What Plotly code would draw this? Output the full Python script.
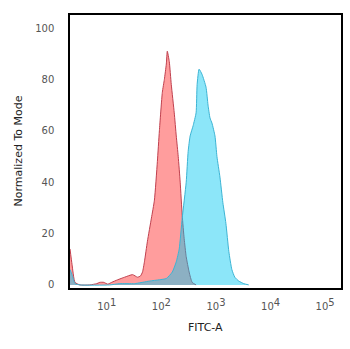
import numpy as np
import plotly.graph_objects as go

# log10(FITC-A) positions and normalized-to-mode values
iso_log = [0.327, 0.364, 0.418, 0.509, 0.69, 0.818, 0.873, 0.945, 1.018, 1.09, 1.2, 1.327,
           1.473, 1.564, 1.618, 1.655, 1.69, 1.745, 1.818, 1.873, 1.927, 1.964, 2.018, 2.055,
           2.091, 2.109, 2.145, 2.182, 2.236, 2.273, 2.309, 2.345, 2.382, 2.418, 2.455, 2.509,
           2.564, 2.636]
iso_val = [14, 8, 1, 0, 0, 0.5, 1, 1, 0.3, 1, 2, 3,
           4, 3, 3.5, 5, 9, 17, 26, 33, 48, 60, 75, 80,
           86, 91, 87, 78, 67, 58, 50, 40, 27, 18, 11, 5,
           1, 0]

ab_log = [0.327, 0.364, 0.418, 0.509, 1.055, 1.236, 1.51, 1.782, 1.964, 2.091, 2.2, 2.273,
          2.327, 2.382, 2.455, 2.491, 2.527, 2.582, 2.636, 2.655, 2.691, 2.745, 2.818, 2.855,
          2.891, 2.927, 2.982, 3.018, 3.073, 3.127, 3.182, 3.236, 3.291, 3.345, 3.418, 3.509,
          3.6]
ab_val = [6, 4, 0.5, 0, 0, 0.5, 0.5, 1.5, 2, 2.5, 5, 9,
          14, 26, 40, 52, 58, 62, 67, 78, 84, 82, 77, 70,
          65, 63, 58, 50, 42, 32, 24, 13, 6, 3, 1.5, 0.5,
          0]

x_tickvals = [10, 100, 1000, 10000, 100000]
x_exponents = ["1", "2", "3", "4", "5"]
y_tickvals = [0, 20, 40, 60, 80, 100]

x_ticktext = ["10<sup><span style='font-size:10px'>%s</span></sup>" % e for e in x_exponents]

fig = go.Figure()
fig.add_trace(go.Scatter(
    x=10 ** np.array(iso_log), y=iso_val, mode="lines", fill="tozeroy",
    line=dict(color="#C0404E", width=1, shape="spline", smoothing=0.5),
    fillcolor="rgba(255,60,60,0.5)", showlegend=False, hoverinfo="skip"))
fig.add_trace(go.Scatter(
    x=10 ** np.array(ab_log), y=ab_val, mode="lines", fill="tozeroy",
    line=dict(color="#3CB4D4", width=1, shape="spline", smoothing=0.5),
    fillcolor="rgba(0,200,242,0.45)", showlegend=False, hoverinfo="skip"))

fig.update_layout(
    width=350, height=349,
    margin=dict(l=70, r=7, t=15, b=61),
    paper_bgcolor="white", plot_bgcolor="white",
    font=dict(family="DejaVu Sans", color="#555"),
    xaxis=dict(type="log", range=[0.327, 5.29], tickvals=x_tickvals, ticktext=x_ticktext,
               showgrid=False, zeroline=False, showline=True, linecolor="black", linewidth=1.5,
               mirror=True, ticks="", tickfont=dict(size=10, color="#555"),
               ticklabelstandoff=8),
    yaxis=dict(range=[-1.2, 105.1], tickvals=y_tickvals, showgrid=False, zeroline=False,
               showline=True, linecolor="black", linewidth=1.5, mirror=True, ticks="",
               tickfont=dict(size=10, color="#555"), ticklabelstandoff=12),
    annotations=[
        dict(text="FITC-A", xref="paper", yref="paper", x=0.5, y=0, yshift=-39,
             showarrow=False, font=dict(size=11, color="#222"), yanchor="middle"),
        dict(text="Normalized To Mode", xref="paper", yref="paper", x=0, xshift=-52, y=0.5,
             showarrow=False, textangle=-90, font=dict(size=11, color="#222"),
             xanchor="center"),
    ],
)

fig.write_html("out.html")
